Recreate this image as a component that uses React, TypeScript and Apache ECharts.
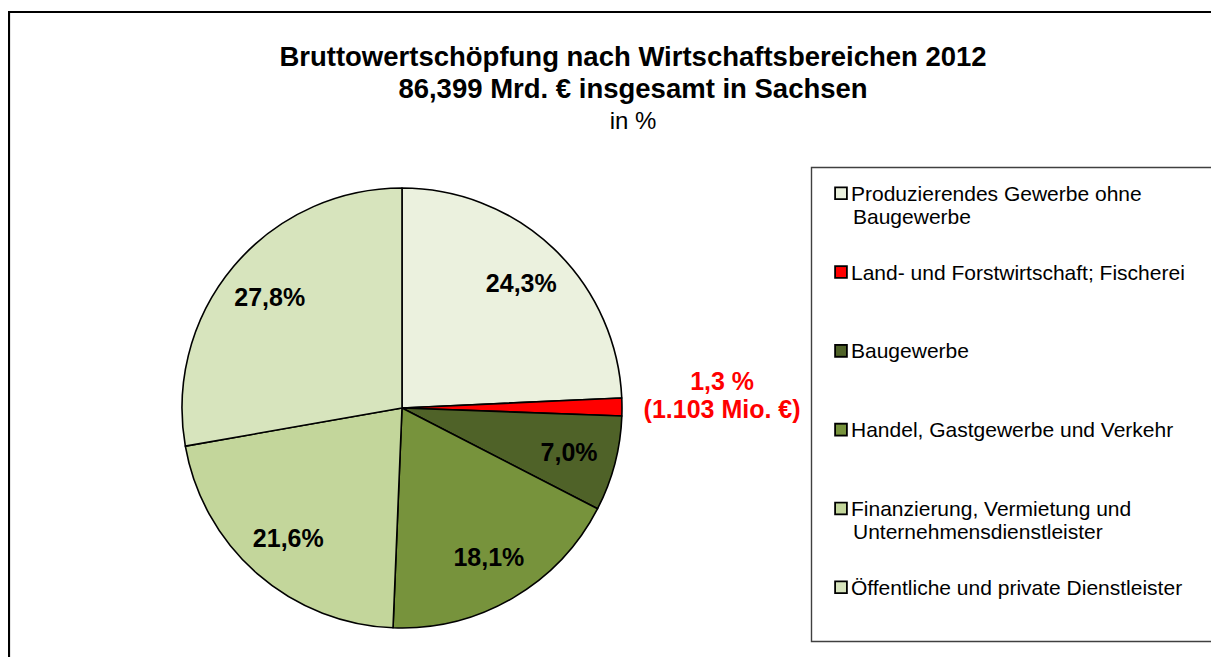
import React, { useEffect, useRef } from 'react';
import * as echarts from 'echarts';

// ---- data ----
const categories: string[] = [
  'Produzierendes Gewerbe ohne\nBaugewerbe',
  'Land- und Forstwirtschaft; Fischerei',
  'Baugewerbe',
  'Handel, Gastgewerbe und Verkehr',
  'Finanzierung, Vermietung und\nUnternehmensdienstleister',
  'Öffentliche und private Dienstleister',
];
const shares: number[] = [24.3, 1.3, 7.0, 18.1, 21.6, 27.8];
const agricultureMio = 1103;
const totalMrd = 86.399;
const year = 2012;
const region = 'Sachsen';

// ---- styles ----
const colors = ['#EBF1DE', '#FF0000', '#4F6228', '#77933C', '#C3D69B', '#D7E4BD'];
const FONT = 'Liberation Sans, Arial, sans-serif';

const deNum = (v: number, d: number) => v.toFixed(d).replace('.', ',');
const deThousands = (n: number) => String(n).replace(/\B(?=(\d{3})+(?!\d))/g, '.');

export default function App() {
  const ref = useRef<HTMLDivElement>(null);

  useEffect(() => {
    if (!ref.current) return;
    const chart = echarts.init(ref.current, undefined, { renderer: 'svg' });

    const cx = 394;
    const cy = 400;
    const R = 220;
    const total = shares.reduce((a, b) => a + b, 0);
    const cum: number[] = [];
    shares.reduce((acc, v, i) => {
      cum[i] = acc;
      return acc + v;
    }, 0);
    const smallIdx = 1;

    const LH = 23.5;
    const rich: Record<string, any> = {
      t: { fontFamily: FONT, fontSize: 21, color: '#000', lineHeight: LH },
      g: { width: 5, height: 10, lineHeight: LH },
      ind: { width: 17, height: 10, lineHeight: LH },
    };
    colors.forEach((c, i) => {
      rich['b' + i] = {
        width: 10,
        height: 10,
        lineHeight: LH,
        backgroundColor: c,
        borderColor: '#000',
        borderWidth: 1.8,
      };
    });

    chart.setOption({
      animation: false,
      backgroundColor: '#fff',
      title: {
        text: `Bruttowertschöpfung nach Wirtschaftsbereichen ${year}\n${deNum(totalMrd, 3)} Mrd. € insgesamt in ${region}`,
        subtext: 'in %',
        left: 625,
        top: 32,
        textAlign: 'center',
        padding: 0,
        itemGap: 0,
        textStyle: { fontFamily: FONT, fontSize: 27.5, fontWeight: 'bold', color: '#000', lineHeight: 32 },
        subtextStyle: { fontFamily: FONT, fontSize: 24, color: '#000', lineHeight: 32 },
      },
      legend: {
        orient: 'vertical',
        left: 823,
        top: 173.5,
        padding: 0,
        itemGap: 31.8,
        itemWidth: 0,
        itemHeight: 0,
        icon: 'none',
        selectedMode: false,
        data: categories,
        formatter: (name: string) => {
          const i = categories.indexOf(name);
          const [l1, l2] = name.split('\n');
          return `{b${i}|}{g|}{t|${l1}}\n{ind|}{t|${l2 || ' '}}`;
        },
        textStyle: { fontFamily: FONT, fontSize: 21, color: '#000', lineHeight: LH, rich },
      },
      graphic: [
        {
          type: 'rect',
          shape: { x: 1, y: 4, width: 1400, height: 900 },
          style: { fill: 'none', stroke: '#000', lineWidth: 2.2 },
          silent: true,
        },
        {
          type: 'rect',
          shape: { x: 803.5, y: 159.5, width: 406, height: 474 },
          style: { fill: 'none', stroke: '#404040', lineWidth: 1.4 },
          silent: true,
        },
      ],
      series: [
        {
          type: 'pie',
          center: [cx, cy],
          radius: [0, R],
          startAngle: 90,
          clockwise: true,
          silent: true,
          emphasis: { disabled: true },
          itemStyle: { borderColor: '#000', borderWidth: 1.6 },
          labelLine: { show: false },
          label: {
            show: true,
            position: 'inside',
            fontFamily: FONT,
            fontSize: 25,
            fontWeight: 'bold',
            color: '#000',
            formatter: (p: any) =>
              p.dataIndex === smallIdx
                ? `${deNum(p.value, 1)} %\n(${deThousands(agricultureMio)} Mio. €)`
                : `${deNum(p.value, 1)}%`,
          },
          labelLayout: (p: any) => {
            const i = p.dataIndex;
            const mid = 90 - ((cum[i] + shares[i] / 2) / total) * 360;
            const rad = (mid * Math.PI) / 180;
            const isSmall = i === smallIdx;
            const dist = isSmall ? R * 1.455 : R * 0.785;
            return {
              x: cx + Math.cos(rad) * dist,
              y: cy - Math.sin(rad) * dist - (isSmall ? 11 : 0),
              align: 'center',
              verticalAlign: 'middle',
            };
          },
          data: categories.map((name, i) => ({
            name,
            value: shares[i],
            itemStyle: { color: colors[i] },
            label: i === smallIdx ? { color: '#FF0000', lineHeight: 28 } : undefined,
          })),
        },
      ],
    });

    return () => chart.dispose();
  }, []);

  return <div ref={ref} style={{ width: 1211, height: 649 }} />;
}
